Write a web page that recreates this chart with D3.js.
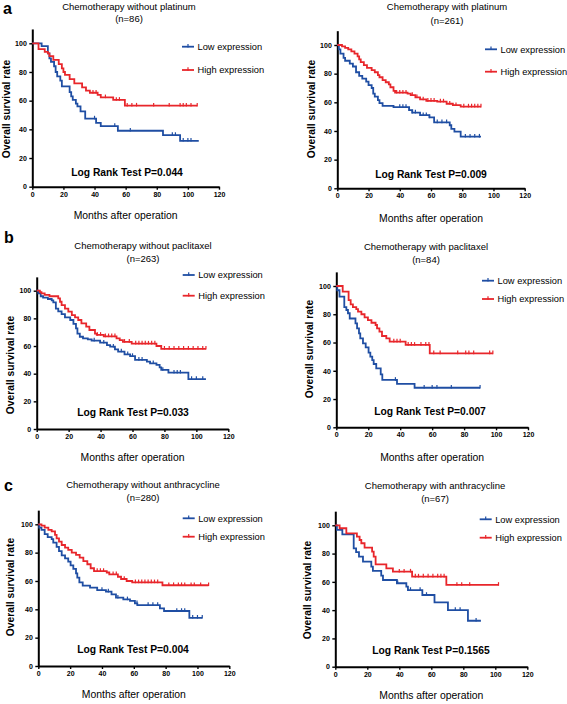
<!DOCTYPE html>
<html><head><meta charset="utf-8">
<script src="https://cdn.jsdelivr.net/npm/d3@7"></script>
<style>
html,body{margin:0;padding:0;background:#fff;}
svg{display:block;font-family:"Liberation Sans",Arial,sans-serif;}
</style></head>
<body><svg id="chart" width="567" height="704"></svg>
<script>
// ---------- DATA ----------
const xTicks = [0, 20, 40, 60, 80, 100, 120];
const yTicks = [0, 20, 40, 60, 80, 100];
const seriesNames = ["Low expression", "High expression"];
const titles = ["Chemotherapy without platinum", "Chemotherapy with platinum",
  "Chemotherapy without paclitaxel", "Chemotherapy with paclitaxel",
  "Chemotherapy without anthracycline", "Chemotherapy with anthracycline"];
const nValues = [86, 261, 263, 84, 280, 67];
const pValues = ["0.044", "0.009", "0.033", "0.007", "0.004", "0.1565"];

// Panel a-left: without platinum
const a1Low = [[0,100],[6,98],[10,93],[11,89.5],[12,87],[14,84],[15,80],[16,77],[18,74],[19,70],[24,66],[25,63],[26,60.5],[28,58],[29,56],[31,52.5],[34,47.5],[41,44.5],[44,42.3],[55,39],[84,36],[95,32]];
const a1LowEnd = 107;
const a1LowCens = [40,53,63,90,92,97,100,102];
const a1High = [[0,100],[4,96],[8,94],[10,93],[11,91],[13.5,88.5],[17,85.5],[19,82.5],[20,80],[21,78],[24,75],[27,72],[32,69.3],[34.5,67],[37,65.5],[42,64],[44,62.3],[52,60.5],[59.5,56.5]];
const a1HighEnd = 106;
const a1HighCens = [39,41,47,54,56,61,64,67,78,88,95,97,99,102,106];

// Panel a-right: with platinum
const a2Low = [[0,100],[1,97],[2,94],[4,91],[5,89],[8,87],[10,85],[12,81],[14,78.5],[16,76.5],[18.5,74.5],[20,72],[22,70],[23,66],[24,64],[26,61.5],[27,59.5],[29,57.5],[36,56.7],[46,54.6],[48,52.8],[53,51],[59,49.5],[62,46],[72,44],[73,41.5],[75,39.5],[79,36]];
const a2LowEnd = 92;
const a2LowCens = [40,42,44,46,48,50,55,57,59,64,67,70,82,85,88,91];
const a2High = [[0,100],[3,99],[5,98],[7,97],[9,95.5],[11,94],[13,92],[14,90],[15,88],[17,86],[19,84],[22,82.5],[24,81],[26,79],[27,77.5],[29,75.5],[31,74],[33,72.5],[34,70.5],[36,68],[37,66.7],[45,66],[47,65],[50,63.5],[53,62],[57,61],[64,60.5],[70,59],[74,58],[79,57]];
const a2HighEnd = 92;
const a2HighCens = [38,40,42,44,48,51,55,58,60,62,66,68,72,76,81,84,86,88,90,92];

// Panel b-left: without paclitaxel
const b1Low = [[0,100],[1,98],[2.5,96],[4,95],[7,94],[9.4,93],[10.4,91.5],[12,87],[13.5,85],[15.6,83],[17.7,80.7],[21,78.8],[23,76],[24.6,72.8],[25.5,69],[27,66.7],[29,65.5],[32,64.8],[34.4,63.9],[39.7,62.4],[44,60.7],[46,59.5],[49,57.6],[51,56],[55,54],[58.5,52.7],[61.6,50],[69,48.7],[71,47.5],[75,46.3],[77,44.6],[78,42.7],[82.5,40.7],[95,36.1]];
const b1LowEnd = 106;
const b1LowCens = [36,42,48,53,57,60,64,66,73,79,86,88,90,97,100,104];
const b1High = [[0,100],[2,99],[3,98],[5,97],[8,96],[13.5,94.5],[14.6,92],[15.6,89.6],[17.7,87],[19.8,84.8],[22,82.4],[24,80.7],[26,78.8],[28,76.4],[31,74],[33,71.6],[36.5,69],[37.6,68],[42,67],[50,65.5],[52,64.3],[54,63],[59.5,61.7],[75,60],[78,58]];
const b1HighEnd = 106;
const b1HighCens = [38,40,43,45,47,49,55,58,62,64,66,68,70,72,74,80,83,86,89,92,95,98,101,104,106];

// Panel b-right: with paclitaxel
const b2Low = [[0,100],[0.6,97],[2,92.5],[5,85],[6.3,83],[7.3,80.7],[8.4,77],[12,73.6],[13,70],[14.2,66.5],[15,63],[16.7,59.4],[18.4,56.6],[20.2,52.8],[21.3,50],[22.5,47.6],[23.4,44.8],[25,41.7],[27.8,37.5],[28.8,33.5],[38,30.7],[49,28]];
const b2LowEnd = 90;
const b2LowCens = [37,55,60,63,72,90];
const b2High = [[0,100],[4,96],[7.7,90],[9,87],[10.4,85],[12.5,83.7],[13.6,81.8],[15.7,80],[17.7,77.8],[19.8,75.9],[22,74],[24.6,72.4],[25.5,70],[27,67.7],[28.6,64.6],[31.3,63],[33.4,60.6],[43.4,58.3],[58.5,52.3]];
const b2HighEnd = 98;
const b2HighCens = [36,38,40,45,47,49,53,56,58,61,65,76,81,83,86,96,98];

// Panel c-left: without anthracycline
const c1Low = [[0,100],[0.6,97.6],[2,96],[4,93],[5.9,91],[8.4,89.6],[9.4,87],[11.5,84],[13,81],[14.7,78],[16.8,76],[18.8,73.6],[20.3,71],[22,68.5],[23.7,65.4],[24.5,62.4],[25.8,59],[27.9,56.7],[32.5,55.3],[37,53.6],[42.5,52.5],[46,50.6],[48.8,48.2],[53.4,47],[57.6,45.9],[60.7,44.2],[62.2,43],[76.4,40.7],[79,38.8],[94.9,34]];
const c1LowEnd = 103;
const c1LowCens = [40,44,50,56,62,69,72,75,87,90,92,97,100,103];
const c1High = [[0,100],[2,99],[4,97.6],[6.3,96],[8.4,95],[10.5,92.5],[11.5,90],[13,87.8],[14.7,85.4],[16.8,83.5],[18.8,81.9],[21,80],[23.7,78.4],[26,76.5],[28.3,74],[30.8,71.8],[32.9,69],[35,67],[43,66],[44.6,64.7],[50,63],[52,61.4],[55.5,60],[59,59],[78,57]];
const c1HighEnd = 107;
const c1HighCens = [37,39,41,47,49,54,61,63,65,67,69,71,73,75,82,85,88,90,92,96,98,102,107];

// Panel c-right: with anthracycline
const c2Low = [[0,100],[1,96.7],[4.4,93.6],[11.5,83.7],[13,81],[14.8,77.8],[17.3,74.3],[22.5,70.8],[23.5,67.7],[28.7,64.4],[29.8,61.3],[38.5,59],[44.4,56.6],[45.4,54.2],[54.4,50.7],[62,45.5],[70.4,40],[82.9,32.5]];
const c2LowEnd = 91;
const c2LowCens = [39,47,53,57,75,78,88];
const c2High = [[0,100],[2.7,97.9],[6.9,94.3],[13.5,92],[15.2,89.6],[16.25,87.3],[18.3,84.2],[23,81.4],[24,77.8],[25.2,72.4],[31.9,69.6],[36,67.2],[48,63.7],[69.4,57.8]];
const c2HighEnd = 102;
const c2HighCens = [40,43,47,50,52,55,58,61,64,66,68,76,79,84,102];

// ---------- LAYOUT (pixel positions) ----------
const layout = [
  {x0:32.3, x1:219,   y0:186.7, y100:43.3, tx:129, t1:9.5,  t2:22,   ly:10,  lyc:109, lr:175.5, lrx:127, xl:219,  lgx:182, lg1:46.7, lg2:70,  letter:"a", lx:3, lyb:14},
  {x0:337.3,x1:524.7, y0:188.3, y100:45,   tx:447, t1:10,   t2:24,   ly:315, lyc:109, lr:177.5, lrx:431, xl:221.5,lgx:485, lg1:49.3, lg2:71.7},
  {x0:36.7, x1:228.3, y0:429,   y100:290.7,tx:143, t1:249,  t2:261.7,ly:14,  lyc:365, lr:415.5, lrx:133, xl:460.5,lgx:182.7,lg1:275, lg2:295.7, letter:"b", lx:4, lyb:243},
  {x0:336.3,x1:528,   y0:427.3, y100:286,  tx:426, t1:250,  t2:263.3,ly:313, lyc:349, lr:415,   lrx:430, xl:460.5,lgx:482, lg1:280.7,lg2:299},
  {x0:38.3, x1:229.3, y0:666,   y100:524.3,tx:143, t1:488.3,t2:501,  ly:14,  lyc:587, lr:652.5, lrx:133, xl:698,  lgx:182.7,lg1:518.3,lg2:536.7, letter:"c", lx:4, lyb:491},
  {x0:335.3,x1:527.3, y0:666.7, y100:525.3,tx:435, t1:489,  t2:502.3,ly:311, lyc:590, lr:654,   lrx:431, xl:699,  lgx:479.7,lg1:519.3,lg2:537.7}
];

const lowSets = [[a1Low,a1LowEnd,a1LowCens],[a2Low,a2LowEnd,a2LowCens],[b1Low,b1LowEnd,b1LowCens],[b2Low,b2LowEnd,b2LowCens],[c1Low,c1LowEnd,c1LowCens],[c2Low,c2LowEnd,c2LowCens]];
const highSets = [[a1High,a1HighEnd,a1HighCens],[a2High,a2HighEnd,a2HighCens],[b1High,b1HighEnd,b1HighCens],[b2High,b2HighEnd,b2HighCens],[c1High,c1HighEnd,c1HighCens],[c2High,c2HighEnd,c2HighCens]];

const BLUE = "#1f4ea3", RED = "#e8262b";
const svg = d3.select("#chart");

function stepVal(steps, t){ let v = steps[0][1]; for(const s of steps){ if(s[0] <= t) v = s[1]; } return v; }

layout.forEach((L, i) => {
  const g = svg.append("g");
  const yTopPx = L.y0 - 1.1*(L.y0 - L.y100);
  const x = d3.scaleLinear().domain([0,120]).range([L.x0, L.x1]);
  const y = d3.scaleLinear().domain([0,110]).range([L.y0, yTopPx]);

  // axes
  const xa = g.append("g").attr("transform", `translate(0,${L.y0})`)
    .call(d3.axisBottom(x).tickValues(xTicks).tickSize(3).tickPadding(2).tickSizeOuter(0));
  const ya = g.append("g").attr("transform", `translate(${L.x0},0)`)
    .call(d3.axisLeft(y).tickValues(yTicks).tickSize(3).tickPadding(2.5).tickSizeOuter(0));
  [xa, ya].forEach(a => {
    a.select(".domain").attr("stroke","#000").attr("stroke-width",2);
    a.selectAll(".tick line").attr("stroke","#000").attr("stroke-width",1.4);
    a.selectAll(".tick text").attr("fill","#000").attr("font-size","7px").attr("font-weight","bold")
      .attr("font-family","'Liberation Sans',Arial,sans-serif");
  });

  // curves
  const line = d3.line().x(d => x(d[0])).y(d => y(d[1])).curve(d3.curveStepAfter);
  [[lowSets[i], BLUE], [highSets[i], RED]].forEach(([set, col]) => {
    const [steps, end, cens] = set;
    const pts = steps.concat([[end, steps[steps.length-1][1]]]);
    g.append("path").attr("d", line(pts)).attr("fill","none").attr("stroke", col).attr("stroke-width", 1.8);
    g.selectAll(null).data(cens).enter().append("line")
      .attr("x1", d => x(d)).attr("x2", d => x(d))
      .attr("y1", d => y(stepVal(steps, d)) - 2.8).attr("y2", d => y(stepVal(steps, d)) + 0.8)
      .attr("stroke", col).attr("stroke-width", 1.2);
  });

  // titles
  g.append("text").attr("x", L.tx).attr("y", L.t1).attr("text-anchor","middle")
    .attr("font-size","9.5px").text(titles[i]);
  g.append("text").attr("x", L.tx).attr("y", L.t2).attr("text-anchor","middle")
    .attr("font-size","9.5px").text(`(n=${nValues[i]})`);

  // axis labels
  g.append("text").attr("transform", `translate(${L.ly},${L.lyc}) rotate(-90)`).attr("text-anchor","middle")
    .attr("font-size","10.3px").attr("font-weight","bold").text("Overall survival rate");
  g.append("text").attr("x", (L.x0+L.x1)/2 + 0).attr("y", L.xl).attr("text-anchor","middle")
    .attr("font-size","10.4px").text("Months after operation");

  // log rank
  g.append("text").attr("x", L.lrx).attr("y", L.lr).attr("text-anchor","middle")
    .attr("font-size","10.3px").attr("font-weight","bold").text(`Log Rank Test P=${pValues[i]}`);

  // legend
  [[L.lg1, BLUE, seriesNames[0]], [L.lg2, RED, seriesNames[1]]].forEach(([ly, col, name]) => {
    g.append("line").attr("x1", L.lgx).attr("x2", L.lgx + 12).attr("y1", ly).attr("y2", ly)
      .attr("stroke", col).attr("stroke-width", 1.8);
    g.append("line").attr("x1", L.lgx + 6).attr("x2", L.lgx + 6).attr("y1", ly - 2.8).attr("y2", ly + 0.8)
      .attr("stroke", col).attr("stroke-width", 1.2);
    g.append("text").attr("x", L.lgx + 15.5).attr("y", ly + 3.3).attr("font-size","9.3px").text(name);
  });

  if (L.letter) {
    g.append("text").attr("x", L.lx).attr("y", L.lyb).attr("font-size","16px").attr("font-weight","bold").text(L.letter);
  }
});
</script></body></html>
